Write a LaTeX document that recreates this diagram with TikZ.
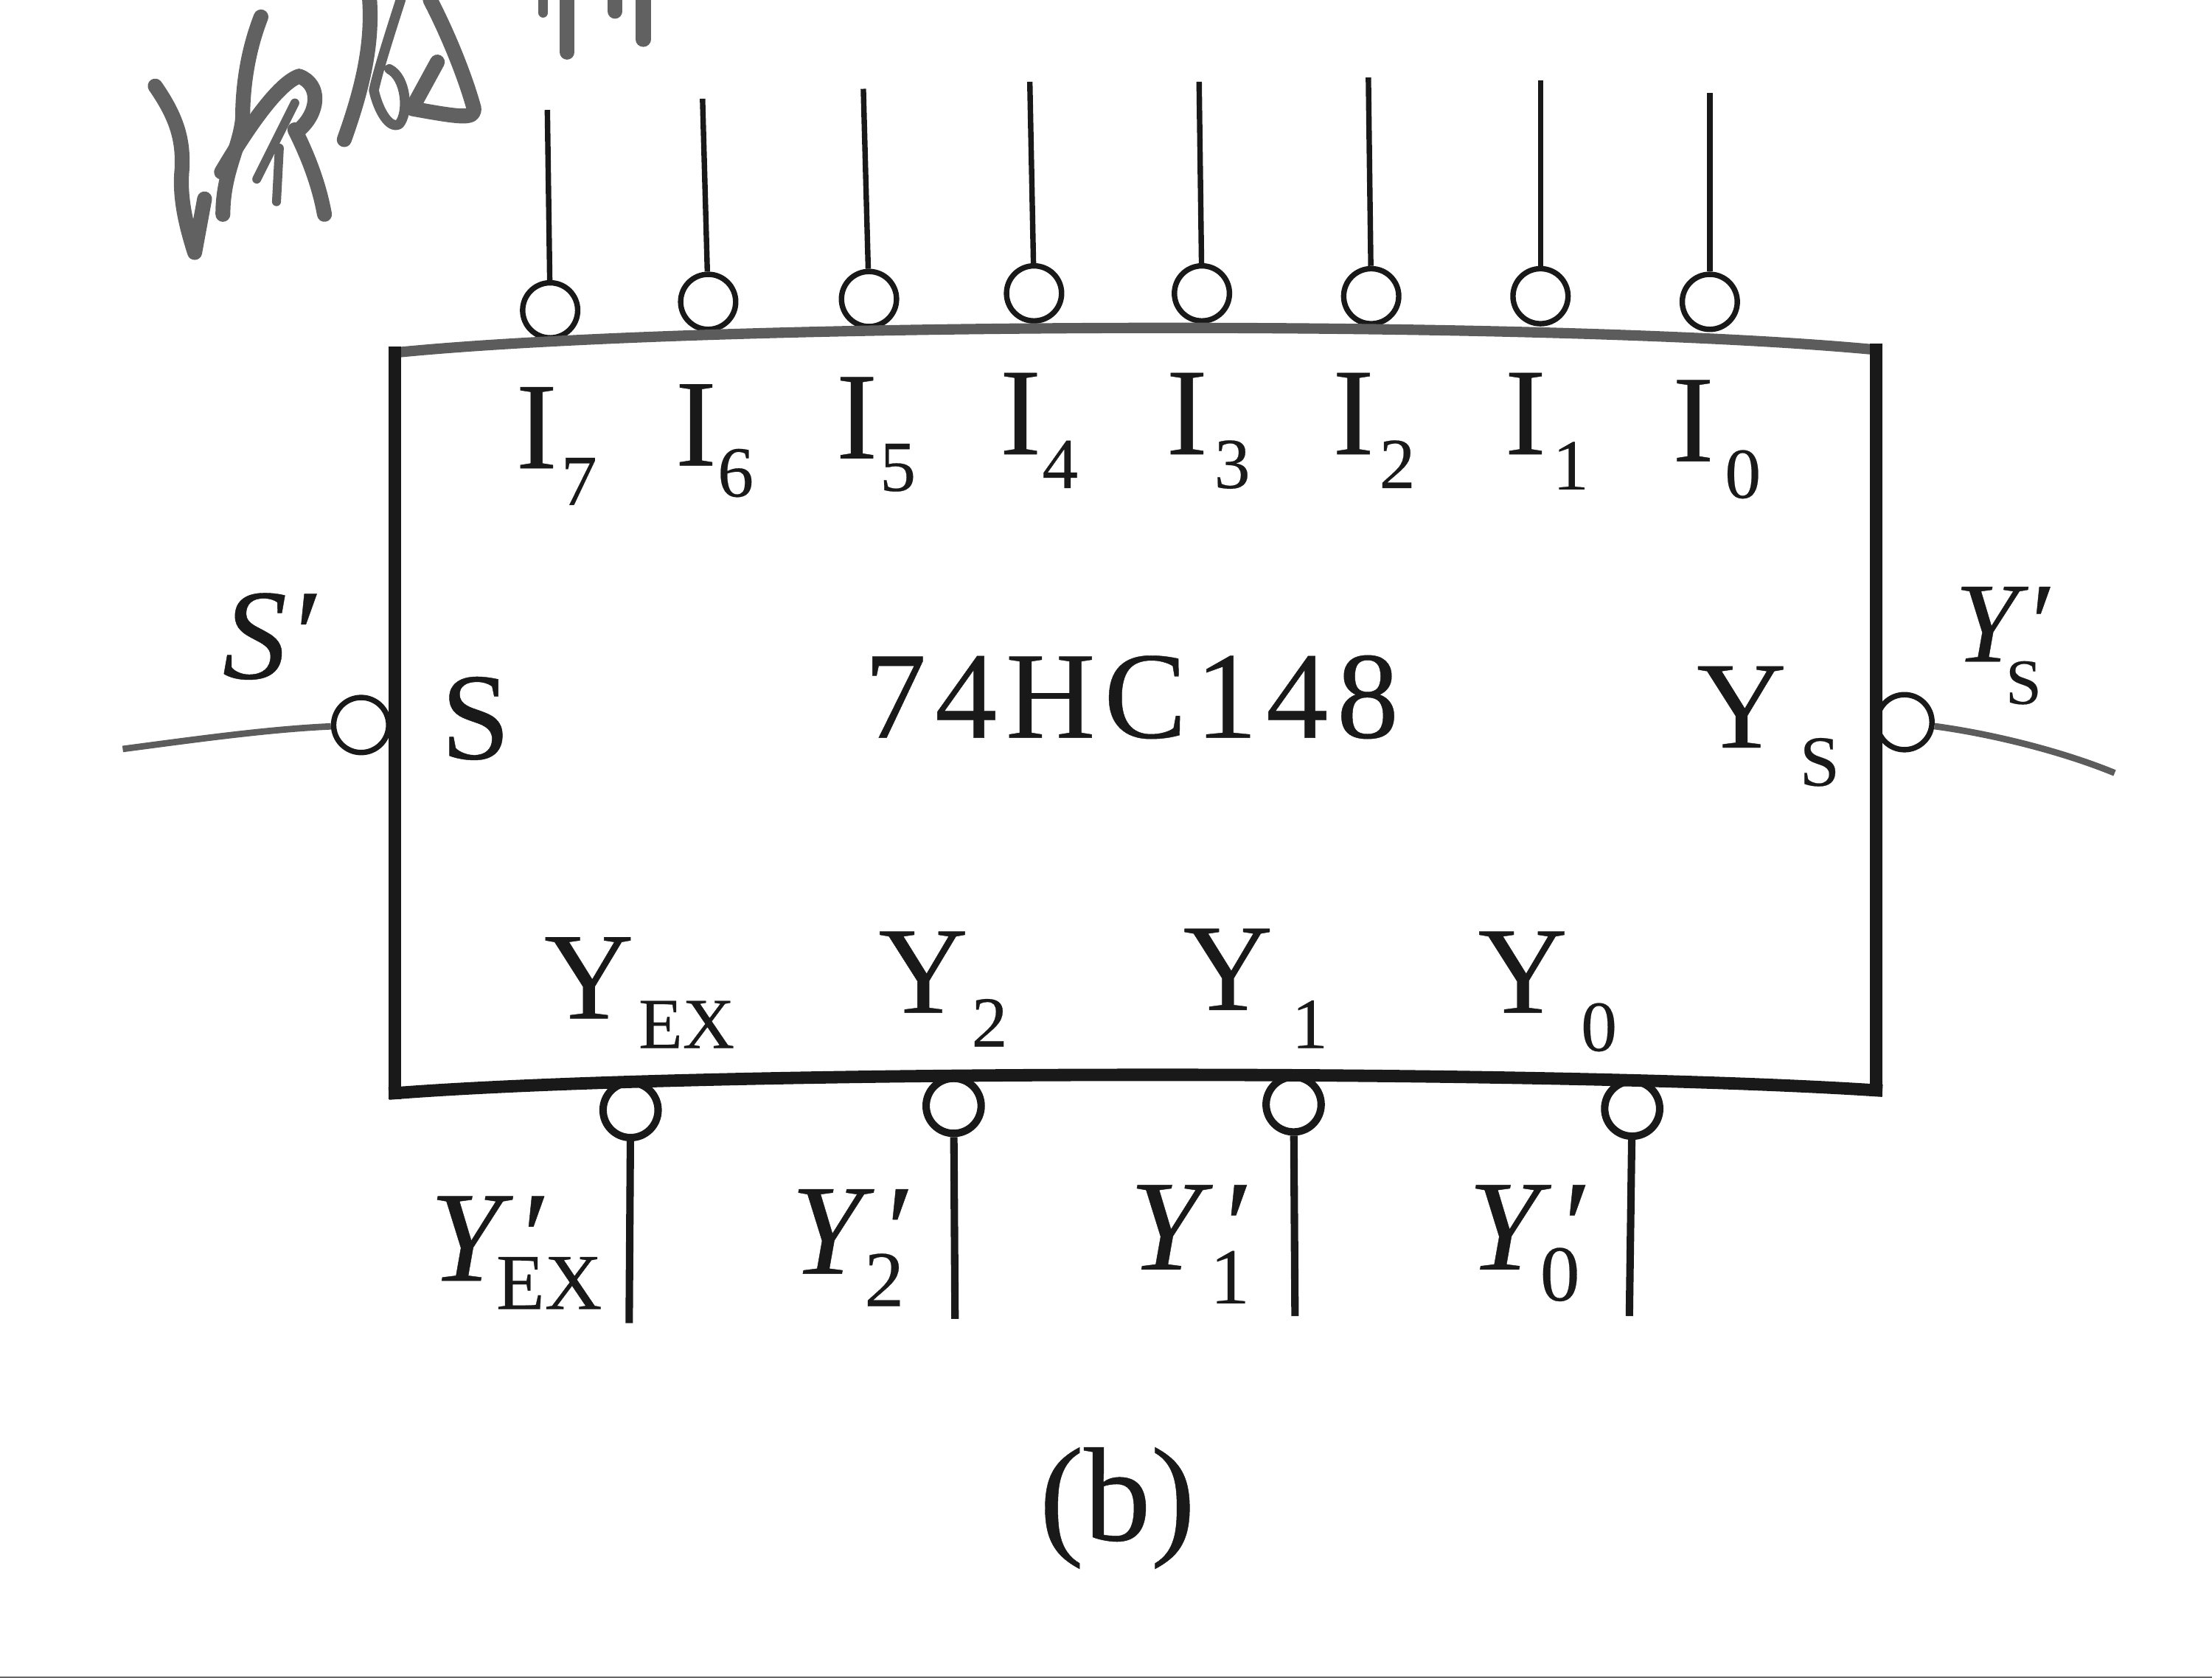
\documentclass[tikz,border=0pt]{standalone}
\usepackage{fontspec}
\setmainfont{Liberation Serif}[FakeBold=0.25,ItalicFeatures={FakeBold=0.25}]
\usetikzlibrary{calc}
\definecolor{ink}{gray}{0.1}
\definecolor{soft}{gray}{0.36}
\newcommand{\subsz}{\fontsize{14.5}{14.5}\selectfont\upshape}
\newcommand{\subbig}{\fontsize{16}{16}\selectfont\upshape}
\newcommand{\primed}[4]{\rlap{Y}\rlap{\hspace{#1cm}′}\hspace{#2cm}\raisebox{-#3cm}{#4}}
\tikzset{
  x=0.01cm,y=-0.01cm,
  lbl/.style={inner sep=0,anchor=base west,text=ink,font=\fontsize{25}{25}\selectfont},
  ilbl/.style={lbl,font=\fontsize{26}{26}\selectfont\itshape},
  sublbl/.style={lbl,font=\subsz},
  bubble/.style={circle,draw=ink,fill=white,line width=1.1pt,inner sep=0,minimum size=0.39cm},
  pin/.style={draw=ink,line width=1.1pt},
  softpin/.style={draw=soft,line width=1.3pt},
  chip/.style={draw=ink,line width=2.5pt,line cap=rect},
  hand/.style={draw=black!62,line width=3pt,line cap=round,line join=round}
}
\begin{document}
\begin{tikzpicture}
\useasboundingbox (0,0) rectangle (1568,1189.6);
\fill[black!60] (0,1188.6) rectangle (1568,1189.6);
% handwriting
\draw[hand] (110,61) .. controls (126,84) and (130,100) .. (129,120) .. controls (127,140) and (132,160) .. (138,179) -- (145,141);
\draw[hand] (185,12) .. controls (176,35) and (172,60) .. (172,84) .. controls (170,105) and (158,122) .. (158,152);
\draw[hand] (157,122) .. controls (170,100) and (195,60) .. (212,54) .. controls (228,60) and (226,80) .. (212,92);
\draw[hand,line width=1.8pt] (209,73) -- (193,105) -- (182,127) (198,105) -- (196,143);
\draw[hand] (209,92) .. controls (218,110) and (226,130) .. (230,152);
\draw[hand] (262,0) .. controls (264,30) and (258,60) .. (244,99);
\draw[hand,line width=2pt] (284,0) .. controls (276,25) and (268,50) .. (265,64) .. controls (268,78) and (276,92) .. (283,88) .. controls (290,80) and (288,55) .. (276,49);
\draw[hand] (305,0) .. controls (318,25) and (330,55) .. (336,77) .. controls (336,84) and (330,84) .. (292,77) -- (310,44);
\draw[hand] (402,0) -- (402,37);
\draw[hand,line width=2pt] (385,0) -- (385,9);
\draw[hand] (436,0) -- (436,8) (456,0) -- (456,28);
% top pins
\foreach \n/\bx/\by/\ex/\ey in {a/390/220/388/78,b/502/214/498/70,c/616/212/612/63,d/733/208/730/58,e/852/208/850/58,f/972/210/970/55,g/1092/210/1092/57,h/1212/214/1212/66}{
  \node[bubble] (B\n) at (\bx,\by) {};
  \coordinate (E\n) at (\ex,\ey);
  \draw[pin] (B\n) -- (E\n);
}
% bottom pins
\foreach \n/\bx/\by/\ex/\ey in {p/447/787/446/938,q/676/784/677/935,r/917/783/918/933,s/1157/786/1155/933}{
  \node[bubble,line width=1.5pt] (B\n) at (\bx,\by) {};
  \coordinate (E\n) at (\ex,\ey);
  \draw[pin,line width=1.5pt] (B\n) -- (E\n);
}
% side pins
\node[bubble] (Bl) at (256,514) {};
\coordinate (El) at (87,531);
\draw[softpin] (Bl) .. controls (190,517) and (140,524) .. (El);
\node[bubble] (Br) at (1350,512) {};
\coordinate (Er) at (1499,548);
\draw[softpin] (Br) .. controls (1410,520) and (1460,532) .. (Er);
% chip outline
\coordinate (tl) at (280,250);
\coordinate (tr) at (1330,248);
\coordinate (bl) at (280,775);
\coordinate (br) at (1330,773);
\draw[chip,draw=soft,line width=2.1pt,line cap=butt] (tl) .. controls (500,228) and (1100,226) .. (tr);
\draw[chip] (tl) -- (bl);
\draw[chip] (tr) -- (br);
\draw[chip] (bl) .. controls (500,758) and (1100,758) .. (br);
% input labels
\foreach \n/\t/\x/\y/\sx/\sy in {i7/7/365/332/397/358,i6/6/478/330/508/352,i5/5/592/325/623/348,i4/4/708/322/738/346,i3/3/826/322/860/346,i2/2/944/322/977/346,i1/1/1066/322/1100/347,i0/0/1185/327/1222/353}{
  \node[lbl] (\n) at (\x,\y) {I};
  \node[sublbl] (\n s) at (\sx,\sy) {\t};
}
% centre and side labels
\node[lbl,font=\fontsize{25}{25}\selectfont\addfontfeature{LetterSpace=7}] (name) at (612,523) {74HC148};
\node[lbl] (sin) at (312,538) {S};
\node[ilbl] (sbar) at (157,481) {S′};
\node[lbl] (ys) at (1202,530) {Y};
\node[sublbl] (yss) at (1275,557) {S};
\node[ilbl,font=\fontsize{23}{23}\selectfont\itshape] (ysb) at (1385,469) {\primed{0.49}{0.36}{0.30}{\fontsize{13}{13}\selectfont\upshape S}};
% output labels inside
\node[lbl] (yex) at (385,722) {Y};
\node[sublbl] (yexs) at (452,743) {EX};
\node[lbl] (y2) at (622,718) {Y};
\node[sublbl] (y2s) at (688,742) {2};
\node[lbl] (y1) at (838,716) {Y};
\node[sublbl] (y1s) at (915,743) {1};
\node[lbl] (y0) at (1047,718) {Y};
\node[sublbl] (y0s) at (1120,745) {0};
% output labels outside
\foreach \n/\x/\y/\px/\sx/\sy/\t in {oex/304/908/0.60/0.47/0.20/EX,o2/560/903/0.62/0.52/0.23/2,o1/800/900/0.62/0.57/0.24/1,o0/1040/900/0.62/0.51/0.22/0}{
  \node[ilbl] (\n) at (\x,\y) {\primed{\px}{\sx}{\sy}{\subbig\t}};
}
\node[lbl,font=\fontsize{27}{27}\selectfont] (cap) at (736,1092) {(b)};
\end{tikzpicture}
\end{document}
